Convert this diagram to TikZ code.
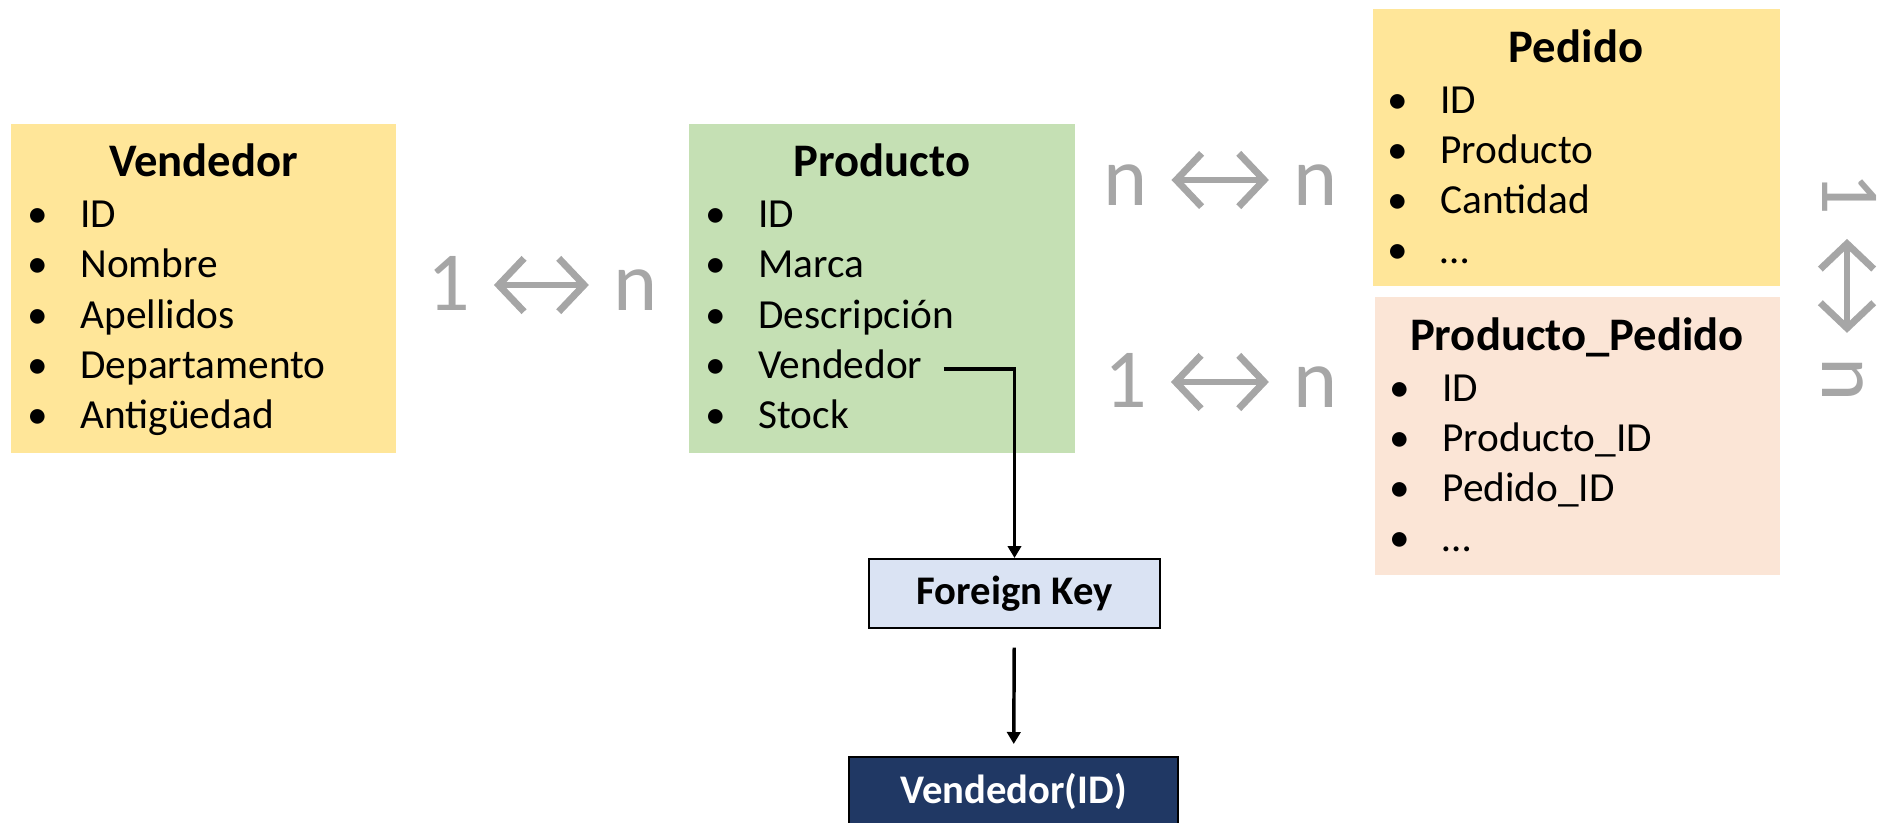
\documentclass[tikz,border=0pt]{standalone}
\usepackage{fontspec}
\setmainfont{Carlito}
\usetikzlibrary{arrows.meta}

\definecolor{amarillo}{RGB}{255,230,153}
\definecolor{verde}{RGB}{197,224,180}
\definecolor{salmon}{RGB}{251,229,214}
\definecolor{celeste}{RGB}{218,227,243}
\definecolor{marino}{RGB}{32,56,100}
\definecolor{gris}{RGB}{166,166,166}

\tikzset{every picture/.style={line width=0.75pt}}
\tikzset{
  tabla/.style={rectangle, inner sep=0pt},
  titulo/.style={anchor=base, inner sep=0pt, font=\bfseries\fontsize{35}{42}\selectfont},
  campo/.style={anchor=base west, inner sep=0pt, font=\fontsize{31}{37}\selectfont},
  card/.style={inner sep=0pt, text=gris, font=\fontsize{63}{75}\selectfont},
  cardarrow/.style={draw=gris, line width=5.2pt, line cap=round,
    {Straight Barb[length=19pt,width=40pt]}-{Straight Barb[length=19pt,width=40pt]},
    shorten <=17.5pt, shorten >=18pt},
  fkline/.style={draw=black, line width=2.6pt, -{Triangle[length=9pt,width=10pt]}},
  clave/.style={rectangle, draw=black, line width=1.5pt, inner sep=0pt,
    font=\bfseries\fontsize{30.5}{36}\selectfont}
}
% bullet followed by the field name
\newcommand{\vi}[1]{\makebox[39.75pt][l]{\textbullet}#1}

\begin{document}
\begin{tikzpicture}[x=0.75pt,y=0.75pt,yscale=-1,xscale=1]
    \useasboundingbox (0,0) rectangle (1883,822);

    % Tables
    \node [tabla, fill=amarillo, minimum width=288.75pt, minimum height=246.75pt] (vendedor) at (203.5,288.5) {};
    \node [tabla, fill=verde, minimum width=289.5pt, minimum height=246.75pt] (producto) at (882,288.5) {};
    \node [tabla, fill=amarillo, minimum width=305.25pt, minimum height=207.75pt] (pedido) at (1576.5,147.5) {};
    \node [tabla, fill=salmon, minimum width=303.75pt, minimum height=208.5pt] (prodped) at (1577.5,436) {};

    % Vendedor
    \node [titulo] (tv) at (203.5,176) {Vendedor};
    \node [campo] (v1) at (27,227) {\vi{ID}};
    \node [campo] (v2) at (27,277) {\vi{Nombre}};
    \node [campo] (v3) at (27,328) {\vi{Apellidos}};
    \node [campo] (v4) at (27,378) {\vi{Departamento}};
    \node [campo] (v5) at (27,428) {\vi{Antigüedad}};

    % Producto
    \node [titulo] (tp) at (882,176) {Producto};
    \node [campo] (p1) at (705,227) {\vi{ID}};
    \node [campo] (p2) at (705,277) {\vi{Marca}};
    \node [campo] (p3) at (705,328) {\vi{Descripción}};
    \node [campo] (p4) at (705,378) {\vi{Vendedor}};
    \node [campo] (p5) at (705,428) {\vi{Stock}};

    % Pedido
    \node [titulo] (tpe) at (1576,62) {Pedido};
    \node [campo] (pe1) at (1387,113) {\vi{ID}};
    \node [campo] (pe2) at (1387,163) {\vi{Producto}};
    \node [campo] (pe3) at (1387,213) {\vi{Cantidad}};
    \node [campo] (pe4) at (1387,263) {\vi{…}};

    % Producto_Pedido
    \node [titulo] (tpp) at (1577,350) {Producto\_Pedido};
    \node [campo] (pp1) at (1389,401) {\vi{ID}};
    \node [campo] (pp2) at (1389,451) {\vi{Producto\_ID}};
    \node [campo] (pp3) at (1389,501) {\vi{Pedido\_ID}};
    \node [campo] (pp4) at (1389,551) {\vi{…}};

    % Cardinalities
    \node [card, anchor=base west] (c1a) at (427,310) {1};
    \node [card, anchor=base east] (c1b) at (658,310) {n};
    \draw [cardarrow] ([yshift=-18.75pt]c1a.base east) -- ([yshift=-18.75pt]c1b.base west);

    \node [card, anchor=base west] (c2a) at (1103,205) {n};
    \node [card, anchor=base east] (c2b) at (1338,205) {n};
    \draw [cardarrow] ([yshift=-18.75pt]c2a.base east) -- ([yshift=-18.75pt]c2b.base west);

    \node [card, anchor=base west] (c3a) at (1104,407) {1};
    \node [card, anchor=base east] (c3b) at (1338,407) {n};
    \draw [cardarrow] ([yshift=-18.75pt]c3a.base east) -- ([yshift=-18.75pt]c3b.base west);

    \node [card, anchor=base west, rotate=-90] (c4a) at (1822,172) {1};
    \node [card, anchor=base east, rotate=-90] (c4b) at (1822,402) {n};
    \draw [cardarrow] ([xshift=18.75pt]c4a.base east) -- ([xshift=18.75pt]c4b.base west);

    % Foreign key
    \node [clave, fill=celeste, minimum width=218.25pt, minimum height=51.75pt] (fk) at (1014.5,593.5) {Foreign Key};
    \node [clave, fill=marino, text=white, minimum width=246.75pt, minimum height=51pt] (vid) at (1013.5,791) {Vendedor(ID)};

    \draw [fkline] ([xshift=15.75pt,yshift=-6.75pt]p4.base east) -| (fk.north);
    \draw [fkline, shorten <=14pt, shorten >=9pt] (fk) -- (vid);

\end{tikzpicture}
\end{document}
